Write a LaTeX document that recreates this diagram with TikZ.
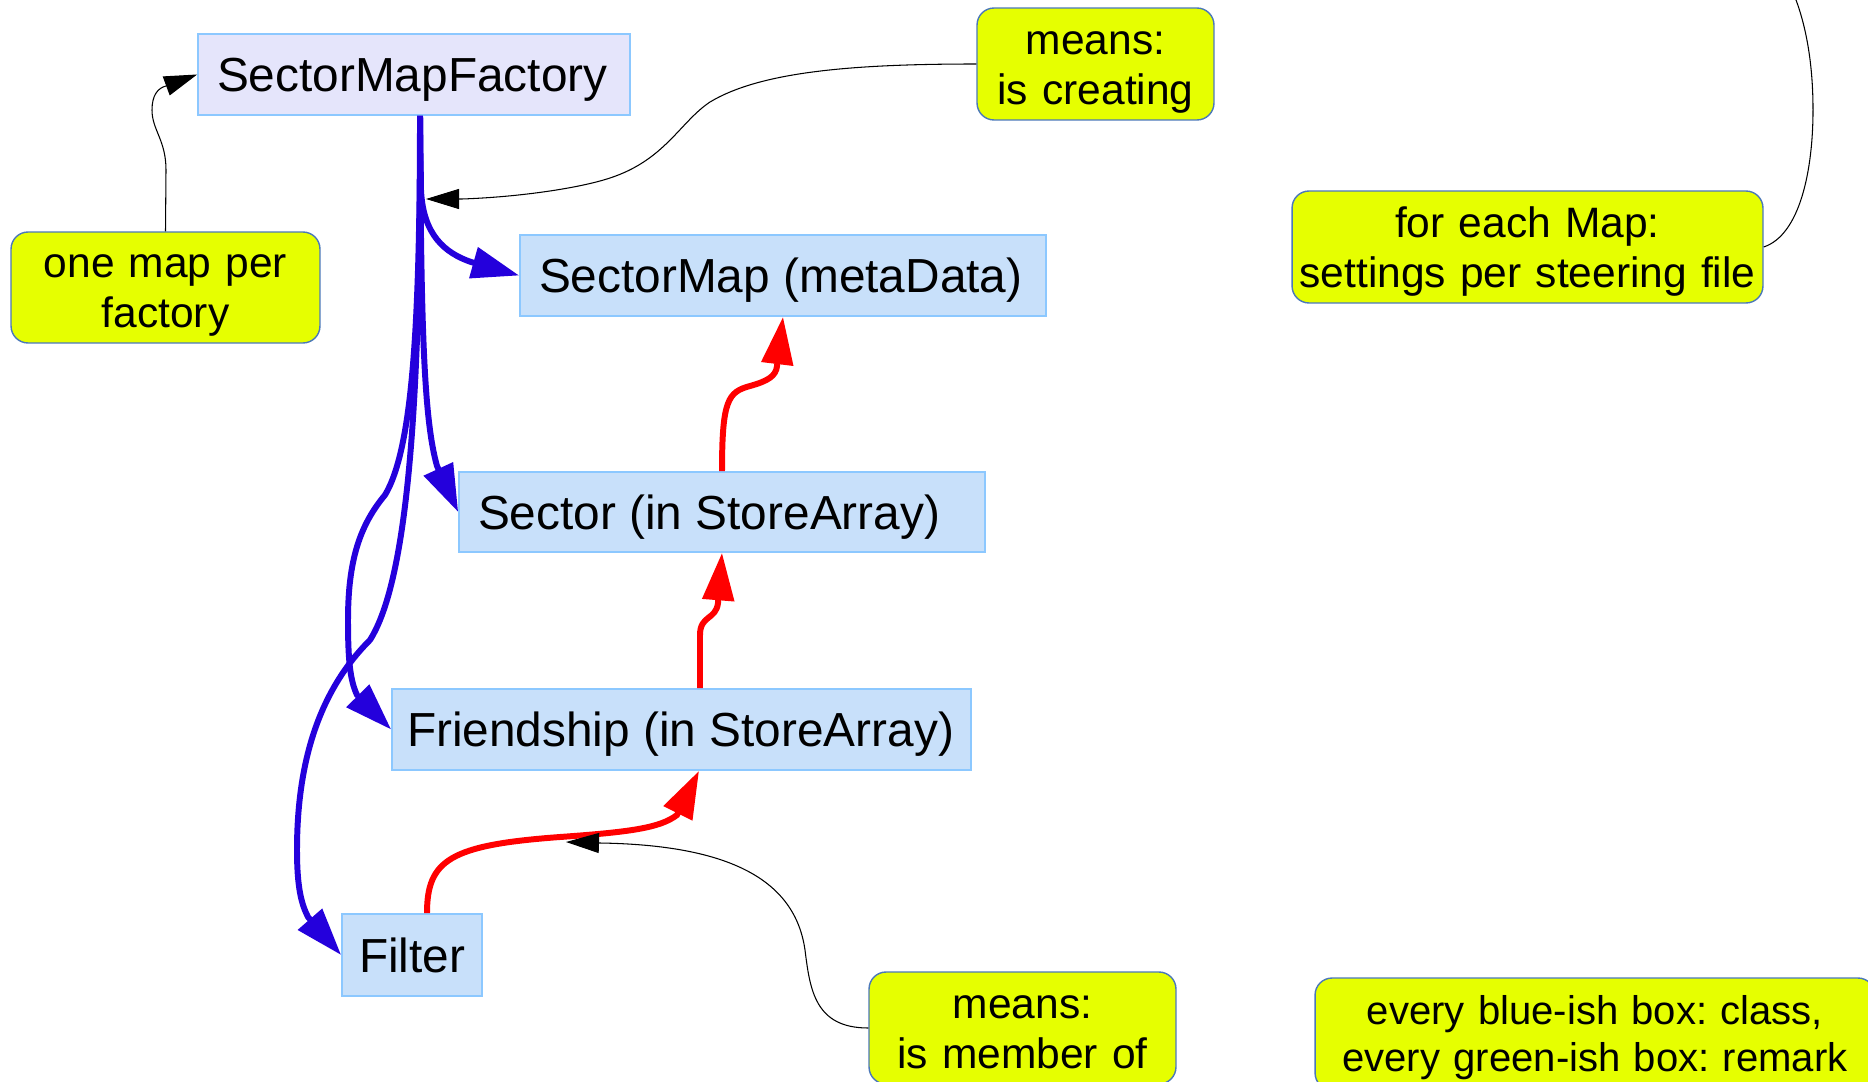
\documentclass[tikz,border=0pt]{standalone}
\usepackage{fontspec}
\setmainfont{Liberation Sans}
\usetikzlibrary{arrows.meta}
\frenchspacing

\definecolor{tridaFill}{RGB}{200,224,250}
\definecolor{tovarnaFill}{RGB}{229,229,251}
\definecolor{tridaOkraj}{RGB}{140,200,255}
\definecolor{poznFill}{RGB}{230,255,0}
\definecolor{poznOkraj}{RGB}{75,120,185}
\definecolor{modra}{RGB}{36,0,220}
\definecolor{cervena}{RGB}{255,0,0}

\begin{document}
\begin{tikzpicture}[x=0.02cm, y=-0.02cm,
  trida/.style={draw=tridaOkraj, line width=1pt, fill=tridaFill, inner xsep=0.38cm,
    align=flush left, minimum height=1.62cm, text height=0.68cm, text depth=0cm,
    font=\fontsize{27.2}{32}\selectfont},
  pozn/.style={draw=poznOkraj, line width=0.8pt, fill=poznFill, rounded corners=0.34cm,
    inner xsep=0.05cm, align=center, minimum height=2.24cm, text height=0.61cm,
    text depth=1.0cm, font=\fontsize{24.2}{28.5}\selectfont},
  vytvari/.style={draw=modra, line width=3.4pt, -{Triangle[length=0.95cm, width=0.62cm]}},
  clenem/.style={draw=cervena, line width=3.4pt, -{Triangle[length=0.95cm, width=0.62cm]}},
  odkaz/.style={draw=black, line width=0.6pt, -{Triangle[length=0.66cm, width=0.4cm]}}]

  % --- RÁMEČEK ---
  \useasboundingbox (0,0) rectangle (1868,1081);
  \clip (0,0) rectangle (1868,1081);

  % --- TŘÍDY ---
  \node[trida, fill=tovarnaFill, text width=7.88cm] (Factory) at (414,74.5) {SectorMapFactory};
  \node[trida, text width=9.76cm] (Map) at (783,275.5) {SectorMap (metaData)};
  \node[trida, text width=9.76cm, minimum height=1.6cm] (Sector) at (722,512) {Sector (in StoreArray)};
  \node[trida, text width=10.98cm, inner xsep=0.3cm] (Friend) at (681.5,729.5) {Friendship (in StoreArray)};
  \node[trida, text width=2.12cm, inner xsep=0.34cm, minimum height=1.64cm] (Filter) at (412,955) {Filter};

  % --- POZNÁMKY ---
  \node[pozn, text width=6.08cm, minimum height=2.22cm] (N_map) at (165.5,287.5) {one map per\\factory};
  \node[pozn, text width=4.64cm] (N_vytv) at (1095.5,64) {means:\\is creating};
  \node[pozn, text width=9.32cm] (N_nast) at (1527.5,247) {for each Map:\\settings per steering file};
  \node[pozn, text width=6.04cm] (N_clen) at (1022.5,1028) {means:\\is member of};
  \node[pozn, text width=11.1cm, text height=0.57cm, text depth=0.94cm,
    font=\fontsize{22.8}{26.8}\selectfont] (N_leg) at (1595,1034) {every blue-ish box: class,\\every green-ish box: remark};

  % pomocné body na spojnicích
  \coordinate (Kmen) at ([xshift=0.12cm]Factory.south);
  \coordinate (Zasah) at (426,199);   % na modrém kmeni
  \coordinate (Cil) at (566,842);     % na červené šipce
  \coordinate (Nahore) at (1792,-10); % mimo obrázek

  % --- VYTVÁŘÍ (modré) ---
  \draw[vytvari] (Kmen) -- (421,190) .. controls (423,235) and (445,253) .. (471,262) -- (Map.west);
  \draw[vytvari] (Kmen) .. controls (421,330) and (424,420) .. (437,466) -- (Sector.west);
  \draw[vytvari] (Kmen) .. controls (420,330) and (412,450) .. (385,495)
    .. controls (360,525) and (348,560) .. (348,620)
    .. controls (348,660) and (350,680) .. (357,695) -- (Friend.west);
  \draw[vytvari] (Kmen) .. controls (421,400) and (408,580) .. (370,640)
    .. controls (320,690) and (297,760) .. (297,850)
    .. controls (297,890) and (302,905) .. (308,917) -- (Filter.west);

  % --- JE ČLENEM (červené) ---
  \draw[clenem] (Sector.north) .. controls (722,400) and (728,392) .. (750,386)
    .. controls (768,381) and (776,376) .. (777,366) -- (Map.south);
  \draw[clenem] ([xshift=0.37cm]Friend.north) -- (700,635)
    .. controls (700,615) and (716,620) .. (718,603) -- (Sector.south);
  \draw[clenem] ([xshift=0.3cm]Filter.north) .. controls (427,860) and (450,845) .. (560,837)
    .. controls (630,832) and (660,828) .. (677,815) -- ([xshift=0.35cm]Friend.south);

  % --- ODKAZY POZNÁMEK (černé) ---
  \draw[odkaz] (N_map.north) -- (166,170) .. controls (166,140) and (152,130) .. (152,110)
    .. controls (152,95) and (158,88) .. (166,86) -- (Factory.west);
  \draw[odkaz] (N_vytv.west) .. controls (850,64) and (760,72) .. (710,102)
    .. controls (680,122) and (665,160) .. (610,178)
    .. controls (580,188) and (520,197) .. (462,199) -- (Zasah);
  \draw[odkaz] (N_clen.west) .. controls (815,1028) and (810,990) .. (805,950)
    .. controls (795,880) and (730,845) .. (600,843) -- (Cil);
  \draw[line width=0.6pt] (N_nast.east) .. controls (1800,235) and (1813,170) .. (1813,110)
    .. controls (1813,60) and (1805,20) .. (Nahore);

\end{tikzpicture}
\end{document}
